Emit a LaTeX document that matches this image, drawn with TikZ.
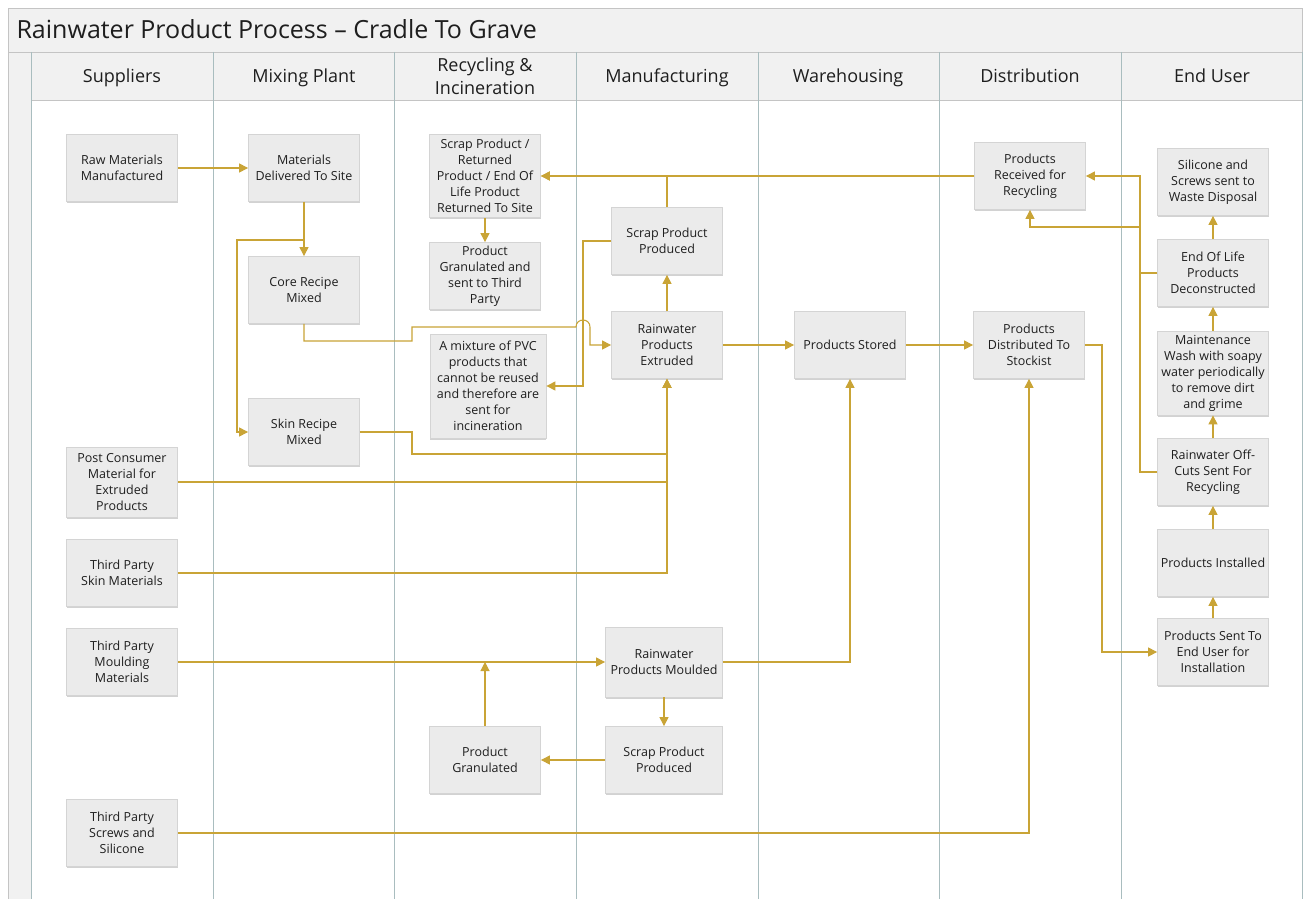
\documentclass[tikz,border=0pt]{standalone}
\usepackage{fontspec}
\setmainfont{Open Sans}
\usetikzlibrary{arrows.meta,shadows}
\definecolor{flow}{HTML}{C9A436}
\definecolor{lane}{HTML}{A9BDBF}
\definecolor{boxfill}{HTML}{EBEBEB}
\definecolor{boxline}{HTML}{D4D4D4}
\definecolor{band}{HTML}{F1F1F1}
\definecolor{frame}{HTML}{C4C4C4}
\definecolor{ink}{HTML}{1E1E1E}

\tikzset{
  proc/.style={draw=boxline, fill=boxfill, line width=0.8pt,
    minimum width=111pt, minimum height=67pt, align=center,
    inner xsep=1pt, inner ysep=1pt, text=ink,
    font=\fontsize{12.5}{16}\selectfont,
    drop shadow={shadow xshift=0pt, shadow yshift=-1.6pt, fill=black!35, opacity=0.5}},
  flowline/.style={draw=flow, line width=1.05pt, -{Triangle[length=9pt,width=9pt]}},
  lanehead/.style={font=\fontsize{18}{23}\selectfont, align=center, text=ink},
}

\begin{document}
\begin{tikzpicture}[x=1pt,y=-1pt]
\useasboundingbox (0,0) rectangle (1306,899);

% pool frame, title band, side strip and lane header row
\fill[white] (8,8) rectangle (1302,899);
\fill[band] (8,8) rectangle (1302,52);
\fill[band] (8,52) rectangle (31,899);
\fill[band] (31,52) rectangle (1302,100);
\draw[frame, line width=0.8pt] (8,899) -- (8,8) -- (1302,8) -- (1302,899);
\draw[frame, line width=0.8pt] (8,52) -- (1302,52);
\draw[frame, line width=0.8pt] (31,100) -- (1302,100);

% lane separators
\foreach \lx in {31,213,394,576,758,939,1121,1302}
  \draw[lane, line width=0.9pt] (\lx,52) -- (\lx,899);

\node[anchor=base west, font=\fontsize{25}{30}\selectfont, text=ink] (title) at (13,39)
  {Rainwater Product Process – Cradle To Grave};

\node[lanehead, anchor=base] (h1) at (122,82) {Suppliers};
\node[lanehead, anchor=base] (h2) at (304,82) {Mixing Plant};
\node[lanehead] (h3) at (485,76) {Recycling \&\\Incineration};
\node[lanehead, anchor=base] (h4) at (667,82) {Manufacturing};
\node[lanehead, anchor=base] (h5) at (848,82) {Warehousing};
\node[lanehead, anchor=base] (h6) at (1030,82) {Distribution};
\node[lanehead, anchor=base] (h7) at (1212,82) {End User};

% process steps
\node[proc] (raw) at (122,168) {Raw Materials\\Manufactured};
\node[proc] (deliv) at (304,168) {Materials\\Delivered To Site};
\node[proc] (core) at (304,290) {Core Recipe\\Mixed};
\node[proc] (skin) at (304,432) {Skin Recipe\\Mixed};
\node[proc, minimum height=83pt] (scrapret) at (485,176)
  {Scrap Product /\\Returned\\Product / End Of\\Life Product\\Returned To Site};
\node[proc] (gran3) at (485,276) {Product\\Granulated and\\sent to Third\\Party};
\node[proc, minimum width=116pt, minimum height=104pt] (pvc) at (488,386)
  {A mixture of PVC\\products that\\cannot be reused\\and therefore are\\sent for\\incineration};
\node[proc] (scrapx) at (667,241) {Scrap Product\\Produced};
\node[proc] (extr) at (667,345) {Rainwater\\Products\\Extruded};
\node[proc] (stored) at (850,345) {Products Stored};
\node[proc] (recv) at (1030,176) {Products\\Received for\\Recycling};
\node[proc] (dist) at (1029,345) {Products\\Distributed To\\Stockist};
\node[proc] (silic) at (1213,182) {Silicone and\\Screws sent to\\Waste Disposal};
\node[proc] (eol) at (1213,273) {End Of Life\\Products\\Deconstructed};
\node[proc, minimum height=84pt] (maint) at (1213,373)
  {Maintenance\\Wash with soapy\\water periodically\\to remove dirt\\and grime};
\node[proc] (offcut) at (1213,472) {Rainwater Off-\\Cuts Sent For\\Recycling};
\node[proc] (inst) at (1213,563) {Products Installed};
\node[proc] (sent) at (1213,652) {Products Sent To\\End User for\\Installation};
\node[proc, minimum height=70pt] (post) at (122,482)
  {Post Consumer\\Material for\\Extruded\\Products};
\node[proc] (tpskin) at (122,573) {Third Party\\Skin Materials};
\node[proc] (tpmould) at (122,662) {Third Party\\Moulding\\Materials};
\node[proc, minimum width=117pt, minimum height=70pt] (mould) at (664,662)
  {Rainwater\\Products Moulded};
\node[proc, minimum width=117pt] (scrapm) at (664,760) {Scrap Product\\Produced};
\node[proc] (gran) at (485,760) {Product\\Granulated};
\node[proc] (tpscrew) at (122,833) {Third Party\\Screws and\\Silicone};

% routing points
\coordinate (j1) at (237,240);
\coordinate (j2) at (412,341);
\coordinate (j3) at (412,327);
\coordinate (hopA) at (576,327);
\coordinate (hopB) at (590,327);
\coordinate (j4) at (583,241);
\coordinate (j5) at (1102,345);
\coordinate (j6) at (1140,472);
\coordinate (j7) at (1140,273);
\coordinate (j8) at (1140,227);
\coordinate (j9) at (412,432);
\coordinate (j10) at (667,454);

% flows
\draw[flowline] (raw) -- (deliv);
\draw[flowline] (deliv) -- (core);
\draw[flowline] (deliv.south) |- (j1) |- (skin.west);
\draw[flowline] (core.south) |- (j2) -- (j3) -- (hopA)
  .. controls (576,317.7) and (590,317.7) .. (hopB) |- (extr.west);
\draw[flowline] (scrapx.west) -- (j4) |- (pvc.east);
\draw[flowline] (extr) -- (scrapx);
\draw[flowline] (scrapx.north) |- (scrapret.east);
\draw[flowline] (recv.west) -- (scrapret.east);
\draw[flowline] (scrapret) -- (gran3);
\draw[flowline] (extr) -- (stored);
\draw[flowline] (stored) -- (dist);
\draw[flowline] (dist.east) -- (j5) |- (sent.west);
\draw[flowline] (sent) -- (inst);
\draw[flowline] (inst) -- (offcut);
\draw[flowline] (offcut) -- (maint);
\draw[flowline] (maint) -- (eol);
\draw[flowline] (eol) -- (silic);
\draw[flowline] (offcut.west) -- (j6) |- (recv.east);
\draw[flowline] (eol.west) -- (j7) -- (j8) -| (recv.south);
\draw[flowline] (skin.east) -- (j9) |- (j10) -- (extr.south);
\draw[flowline] (post.east) -| (extr.south);
\draw[flowline] (tpskin.east) -| (extr.south);
\draw[flowline] (tpmould) -- (mould);
\draw[flowline] (gran.north) -- (gran.north |- mould.west);
\draw[flowline] (mould) -- (scrapm);
\draw[flowline] (scrapm) -- (gran);
\draw[flowline] (mould.east) -| (stored.south);
\draw[flowline] (tpscrew.east) -| (dist.south);
\end{tikzpicture}
\end{document}
